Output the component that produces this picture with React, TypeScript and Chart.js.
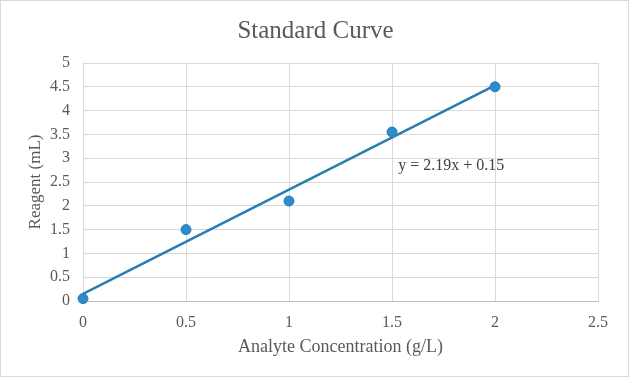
import React, { useEffect, useRef } from "react";
import { Chart, registerables } from "chart.js";

Chart.register(...registerables);

const concentrations = [0, 0.5, 1, 1.5, 2];
const reagent = [0.05, 1.5, 2.1, 3.55, 4.5];
const trendX = [0, 2];
const trendY = [0.15, 4.53];
const chartTitle = "Standard Curve";
const equationText = "y = 2.19x + 0.15";
const equationAt = { x: 1.53, y: 2.85 };

const FONT = "'Liberation Serif', 'DejaVu Serif', serif";

const chromePlugin = {
  id: "chrome",
  beforeDraw(chart: any) {
    const { ctx, width, height } = chart;
    ctx.save();
    ctx.fillStyle = "#ffffff";
    ctx.fillRect(0, 0, width, height);
    ctx.restore();
  },
  afterDraw(chart: any) {
    const { ctx, width, height, scales } = chart;
    ctx.save();
    ctx.strokeStyle = "#d9d9d9";
    ctx.lineWidth = 1;
    ctx.strokeRect(0.5, 0.5, width - 1, height - 1);
    ctx.fillStyle = "#595959";
    ctx.font = `25px ${FONT}`;
    ctx.textAlign = "center";
    ctx.textBaseline = "middle";
    ctx.fillText(chartTitle, width / 2 + 1, 31);
    ctx.fillStyle = "#404040";
    ctx.font = `16px ${FONT}`;
    ctx.textAlign = "left";
    ctx.fillText(
      equationText,
      scales.x.getPixelForValue(equationAt.x),
      scales.y.getPixelForValue(equationAt.y)
    );
    ctx.restore();
  },
};

const fmt = (v: any) => `${+v}`;

export default function App() {
  const ref = useRef<HTMLCanvasElement | null>(null);
  useEffect(() => {
    if (!ref.current) return;
    const chart = new Chart(ref.current, {
      type: "scatter",
      data: {
        datasets: [
          {
            label: "Trend",
            type: "line",
            data: trendX.map((x, i) => ({ x, y: trendY[i] })),
            borderColor: "#2a7db3",
            borderWidth: 2.5,
            pointRadius: 0,
            fill: false,
            clip: false,
            order: 2,
          } as any,
          {
            label: "Reagent",
            data: concentrations.map((x, i) => ({ x, y: reagent[i] })),
            backgroundColor: "#2e8bcb",
            borderColor: "#2a80bb",
            borderWidth: 1,
            pointRadius: 5,
            clip: false,
            order: 1,
          } as any,
        ],
      },
      options: {
        responsive: false,
        animation: false,
        layout: { padding: { top: 63, right: 31, bottom: 0, left: 0 } },
        plugins: {
          legend: { display: false },
          tooltip: { enabled: false },
          title: { display: false },
        },
        scales: {
          x: {
            type: "linear",
            min: 0,
            max: 2.5,
            afterFit: (s: any) => {
              s.height = 76;
            },
            ticks: {
              stepSize: 0.5,
              callback: fmt,
              color: "#595959",
              font: { family: FONT, size: 16 },
              padding: 12,
            },
            grid: { color: "#d9d9d9", drawTicks: false },
            border: { color: "#bfbfbf" },
            title: {
              display: true,
              text: "Analyte Concentration (g/L)",
              color: "#595959",
              font: { family: FONT, size: 18 },
              padding: { top: 0, bottom: 19 },
            },
          },
          y: {
            type: "linear",
            min: 0,
            max: 5,
            afterFit: (s: any) => {
              s.width = 83;
            },
            ticks: {
              stepSize: 0.5,
              callback: fmt,
              color: "#595959",
              font: { family: FONT, size: 16 },
              padding: 13,
            },
            grid: { color: "#d9d9d9", drawTicks: false },
            border: { color: "#d9d9d9" },
            title: {
              display: true,
              text: "Reagent (mL)",
              color: "#595959",
              font: { family: FONT, size: 17 },
              padding: { top: 25, bottom: 0 },
            },
          },
        },
      },
      plugins: [chromePlugin],
    });
    return () => chart.destroy();
  }, []);
  return (
    <div style={{ position: "fixed", left: 0, top: 0, width: 629, height: 377 }}>
      <canvas ref={ref} width={629} height={377} />
    </div>
  );
}
